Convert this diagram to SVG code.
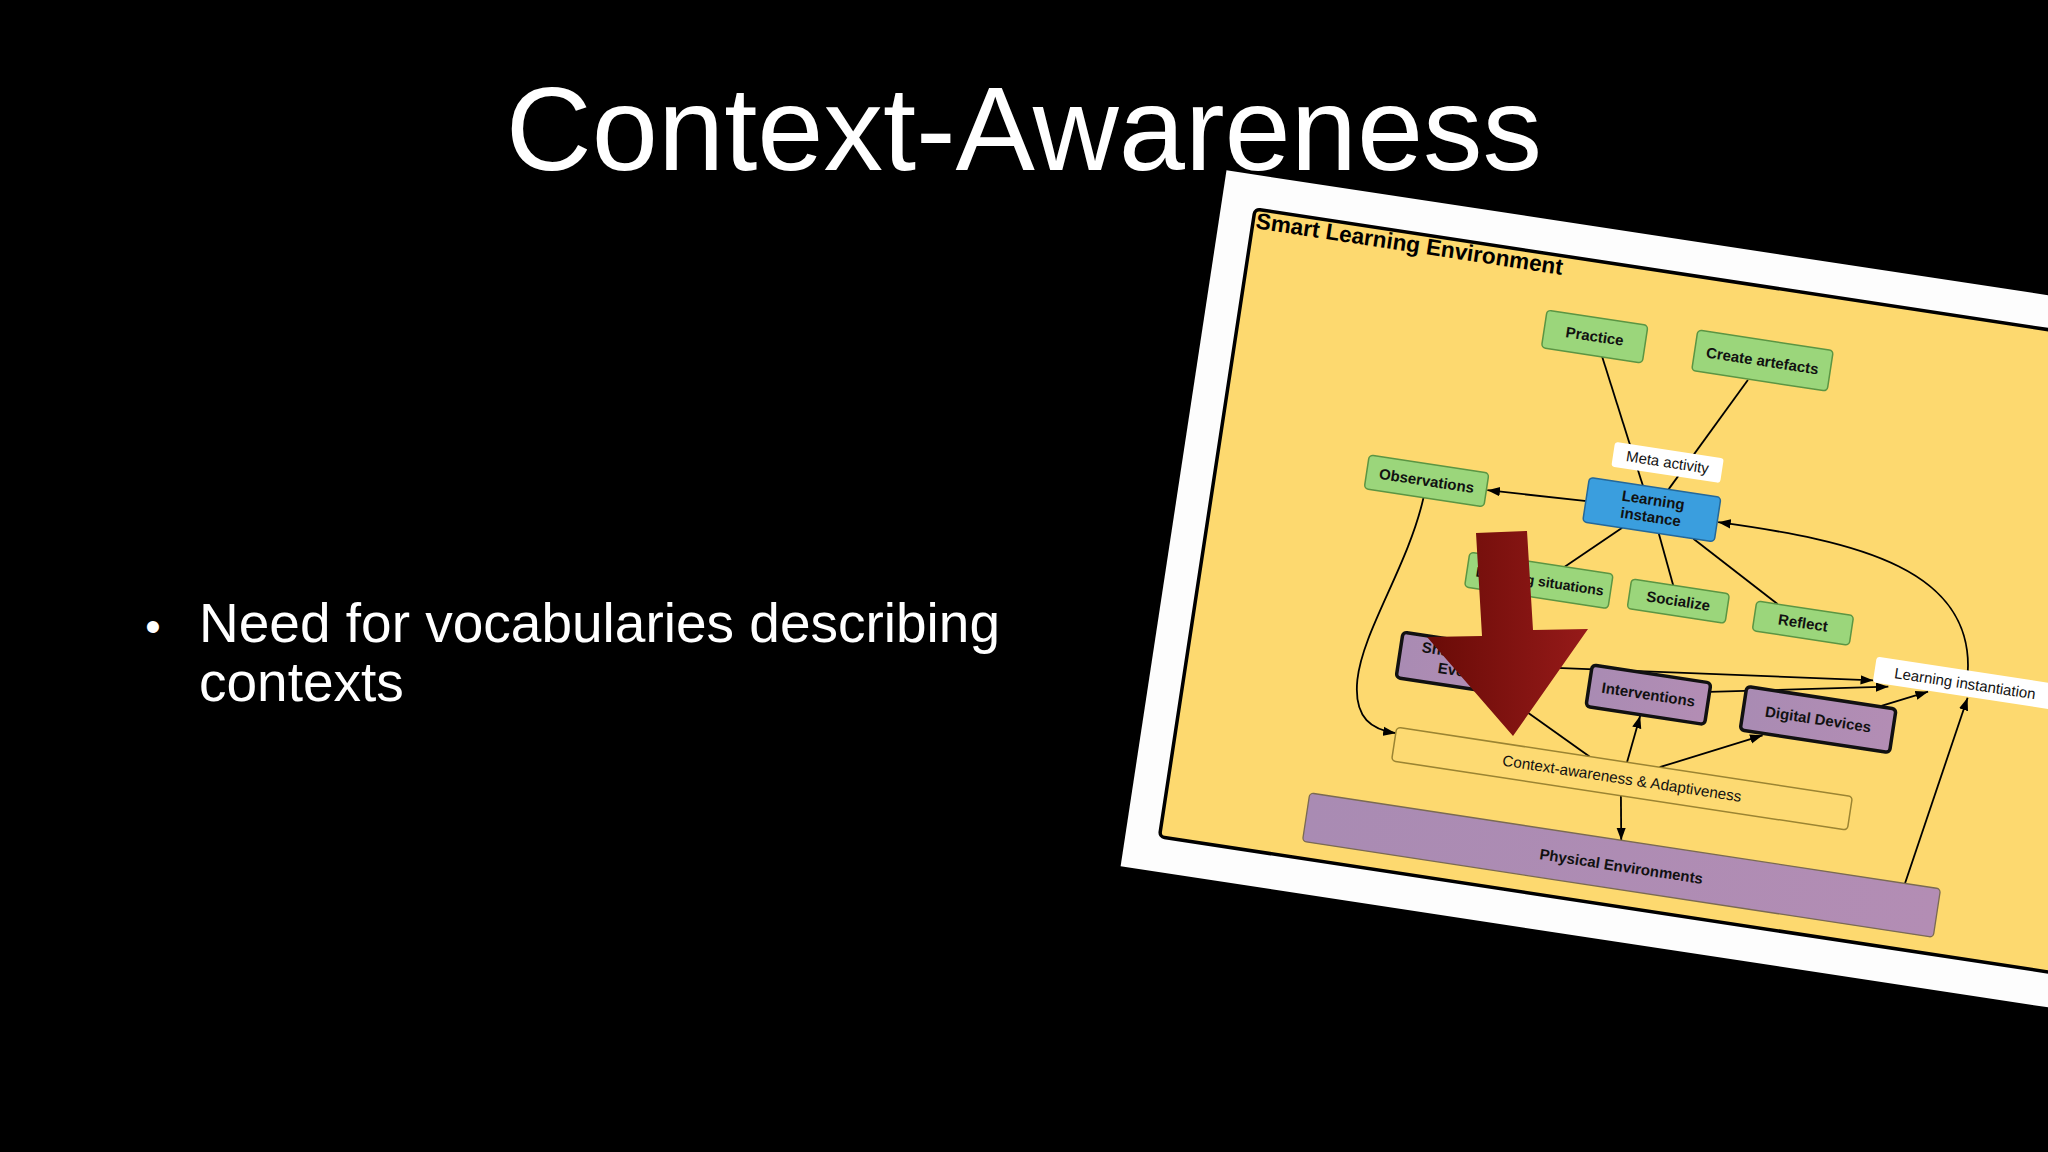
<svg xmlns="http://www.w3.org/2000/svg" width="2048" height="1152" viewBox="0 0 2048 1152">
<defs>
<style>
.sans{font-family:"Liberation Sans",Arial,sans-serif}
.slide{fill:#ffffff}
.lbl{font-family:"Liberation Sans",Arial,sans-serif;font-size:15px;font-weight:bold;fill:#111;text-anchor:middle}
.lblr{font-family:"Liberation Sans",Arial,sans-serif;font-size:15px;fill:#111;text-anchor:middle}
.green{fill:#9bd67b;stroke:#5b9543;stroke-width:1.5}
.blue{fill:#3a9ede;stroke:#24689a;stroke-width:1.5}
.purple{fill:url(#purp);stroke:#111;stroke-width:3.5}
.tag{fill:#ffffff;stroke:none}
.con{fill:none;stroke:#000;stroke-width:1.8}
.arr{marker-end:url(#ah)}
</style>
<marker id="ah" viewBox="0 0 10 10" refX="10" refY="5" markerWidth="7" markerHeight="7" orient="auto" markerUnits="strokeWidth">
<path d="M0,1.3 L10,5 L0,8.7 z" fill="#000"/>
</marker>
<linearGradient id="purp" x1="0" y1="0" x2="1" y2="0">
<stop offset="0" stop-color="#a98bb3"/>
<stop offset="1" stop-color="#b38db4"/>
</linearGradient>
<linearGradient id="red" x1="0" y1="0" x2="1" y2="0">
<stop offset="0" stop-color="#690b07"/>
<stop offset="1" stop-color="#961a19"/>
</linearGradient>
</defs>
<rect x="0" y="0" width="2048" height="1152" fill="#000"/>
<text class="sans slide" x="1024" y="170" font-size="119" text-anchor="middle">Context-Awareness</text>
<g id="bullet">
<text class="sans slide" x="153" y="642" font-size="44" text-anchor="middle">•</text>
<text class="sans slide" x="199" y="642" font-size="55">Need for vocabularies describing</text>
<text class="sans slide" x="199" y="701" font-size="55">contexts</text>
</g>
<g id="diagram" transform="translate(1255,209) rotate(8.65)">
<rect x="-34" y="-34" width="1100" height="704" fill="#fdfdfd"/>
<rect x="0" y="0" width="920" height="635" rx="5" fill="#fdd96f" stroke="#000" stroke-width="3.5"/>
<text class="sans" x="3" y="19" font-size="22.6" font-weight="bold" fill="#000">Smart Learning Environment</text>
<g id="connectors">
<line class="con" x1="365" y1="93" x2="425" y2="215"/>
<line class="con" x1="513" y1="95" x2="451" y2="215"/>
<line class="con arr" x1="372" y1="239" x2="272" y2="243"/>
<line class="con" x1="411" y1="260" x2="360" y2="307"/>
<line class="con" x1="448" y1="260" x2="470" y2="309"/>
<line class="con" x1="483" y1="260" x2="576" y2="312"/>
<path class="con arr" d="M775 362 C773 245 640 238 505 240"/>
<path class="con arr" d="M210 260 C205 330 170 400 172 450 C174 490 195 497 218 497"/>
<line class="con arr" x1="335" y1="412" x2="682" y2="373"/>
<line class="con arr" x1="522" y1="409" x2="698" y2="377"/>
<line class="con arr" x1="694" y1="397" x2="738" y2="376"/>
<line class="con arr" x1="744" y1="569" x2="778" y2="376"/>
<line class="con arr" x1="451" y1="491" x2="457" y2="443"/>
<line class="con arr" x1="484" y1="491" x2="581" y2="444"/>
<line class="con arr" x1="450" y1="525" x2="457" y2="569"/>
<line class="con arr" x1="413" y1="491" x2="318" y2="443"/>
</g>
<g id="node-practice">
<rect class="green" x="304" y="56" width="102" height="38" rx="4"/>
<text class="lbl" x="355" y="80">Practice</text>
</g>
<g id="node-create-artefacts">
<rect class="green" x="456" y="53" width="137" height="41" rx="4"/>
<text class="lbl" x="524.5" y="79">Create artefacts</text>
</g>
<g id="node-meta-activity">
<rect class="tag" x="391" y="176" width="110" height="25" rx="3"/>
<text class="lblr" x="446" y="193.5">Meta activity</text>
</g>
<g id="node-learning-instance">
<rect class="blue" x="371" y="215" width="133" height="45" rx="4"/>
<text class="lbl" x="437.5" y="233">Learning</text>
<text class="lbl" x="437.5" y="250">instance</text>
</g>
<g id="node-observations">
<rect class="green" x="150" y="226" width="121" height="34" rx="4"/>
<text class="lbl" x="210.5" y="248">Observations</text>
</g>
<g id="node-learning-situations">
<rect class="green" x="264" y="307" width="145" height="35" rx="4"/>
<text class="lbl" x="273" y="330" style="text-anchor:start;font-size:14px">Learning situations</text>
</g>
<g id="node-socialize">
<rect class="green" x="428" y="309" width="99" height="30" rx="4"/>
<text class="lbl" x="477.5" y="329">Socialize</text>
</g>
<g id="node-reflect">
<rect class="green" x="555" y="312" width="98" height="30" rx="4"/>
<text class="lbl" x="604" y="332">Reflect</text>
</g>
<g id="node-shared-events">
<rect class="purple" x="210" y="396" width="125" height="46" rx="4"/>
<text class="lbl" x="231" y="413" style="text-anchor:start">Shared</text>
<text class="lbl" x="250" y="431" style="text-anchor:start">Events</text>
</g>
<g id="node-interventions">
<rect class="purple" x="402" y="400" width="120" height="42" rx="4"/>
<text class="lbl" x="462" y="426">Interventions</text>
</g>
<g id="node-digital-devices">
<rect class="purple" x="558" y="398" width="151" height="44" rx="4"/>
<text class="lbl" x="633.5" y="425">Digital Devices</text>
</g>
<g id="node-learning-instantiation">
<rect class="tag" x="682" y="349" width="186" height="26" rx="3"/>
<text class="lblr" x="702" y="367.5" style="text-anchor:start">Learning instantiation</text>
</g>
<g id="node-context-awareness">
<rect x="218" y="491" width="461" height="34" rx="4" fill="#fdda72" stroke="#9b8432" stroke-width="1.5"/>
<text class="sans" x="448.5" y="513" font-size="15.3" fill="#111" text-anchor="middle">Context-awareness &amp; Adaptiveness</text>
</g>
<g id="node-physical-environments">
<rect x="142" y="569" width="638" height="49" rx="4" fill="url(#purp)" stroke="#7a6a52" stroke-width="1.3"/>
<text class="lbl" x="461" y="600">Physical Environments</text>
</g>
</g>
<g id="red-arrow">
<polygon points="1476,533 1527,531 1533,630 1588,629 1513,736 1427,637 1482,636" fill="url(#red)"/>
</g>
</svg>
